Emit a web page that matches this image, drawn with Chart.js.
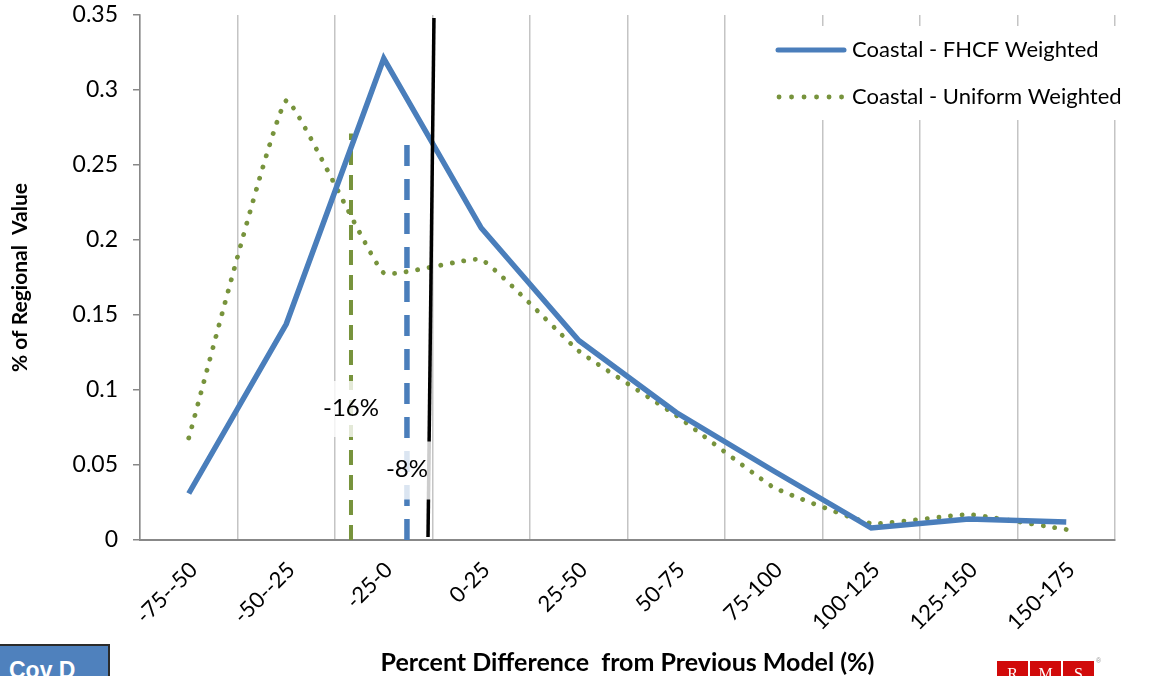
<!DOCTYPE html>
<html>
<head>
<meta charset="utf-8">
<title>Coastal – Percent Difference from Previous Model</title>
<script src="https://cdn.jsdelivr.net/npm/chart.js@4.4.1/dist/chart.umd.min.js"></script>
<style>
  html, body { margin: 0; padding: 0; background: #fff; overflow: hidden; }
  #wrap { position: relative; width: 1153px; height: 676px; overflow: hidden; }
  #c { position: absolute; left: 0; top: 0; }
  .cov {
    position: absolute; left: -2px; top: 644px; width: 112px; height: 44px;
    box-sizing: border-box; border: 2px solid #2b2b2b; background: #4f81bd;
    color: #fff; font: bold 23px "Liberation Sans", Arial, sans-serif;
    line-height: 23px; padding: 13px 0 0 9px;
  }
  .rms { position: absolute; left: 997px; top: 661px; display: flex; gap: 2px; }
  .rms span {
    display: block; width: 31px; height: 24px; background: #d10a0a; color: #fff;
    font: 16px "Liberation Serif", "DejaVu Serif", serif; line-height: 26px; text-align: center;
  }
  .reg { position: absolute; left: 1096px; top: 657px; font: 7px "Liberation Sans", sans-serif; color: #999; }
</style>
</head>
<body>
<div id="wrap">
  <canvas id="c" width="1153" height="676"></canvas>
  <div class="cov">Cov D</div>
  <div class="rms"><span>R</span><span>M</span><span>S</span></div>
  <div class="reg">®</div>
</div>
<script>
// Loss-change buckets (percent difference from the previous model)
const categories = ['-75--50', '-50--25', '-25-0', '0-25', '25-50', '50-75', '75-100', '100-125', '125-150', '150-175'];

// Share of regional value in each bucket
const fhcfWeighted    = [0.031, 0.144, 0.321, 0.208, 0.133, 0.085, 0.046, 0.008, 0.014, 0.012];
const uniformWeighted = [0.068, 0.293, 0.178, 0.187, 0.126, 0.083, 0.035, 0.011, 0.017, 0.007];

const seriesNames = ['Coastal - FHCF Weighted', 'Coastal - Uniform Weighted'];

// Y axis ticks
const yTickValues = [0, 0.05, 0.1, 0.15, 0.2, 0.25, 0.3, 0.35];
const yTickLabels = ['0', '0.05', '0.1', '0.15', '0.2', '0.25', '0.3', '0.35'];

// Average-change markers, positioned in category units along the x axis
const uniformMeanPos = [1.664, 1.664];
const uniformMeanY   = [0, 0.271];
const fhcfMeanPos    = [2.238, 2.238];
const fhcfMeanY      = [0, 0.271];
const zeroLinePos    = [2.454, 2.515];
const zeroLineY      = [0.002, 0.348];

const meanLabels   = ['-16%', '-8%'];
const meanLabelPos = [1.664, 2.238];
const meanLabelY   = [0.088, 0.047];

const FONT = 'Lato, "Open Sans", "DejaVu Sans", sans-serif';
const BLUE = '#4a7ebb';
const GREEN = '#77933c';

const toPoints = (xs, ys) => xs.map((x, i) => ({ x, y: ys[i] }));

// Legend drawn in the upper right of the plot, on a white panel
const legendPanel = {
  id: 'legendPanel',
  afterDatasetsDraw(chart) {
    const ctx = chart.ctx;
    ctx.save();
    ctx.fillStyle = '#fff';
    ctx.fillRect(760, 26, 393, 94);

    // solid entry
    ctx.strokeStyle = BLUE;
    ctx.lineWidth = 5;
    ctx.lineCap = 'round';
    ctx.beginPath();
    ctx.moveTo(778, 50);
    ctx.lineTo(844, 50);
    ctx.stroke();

    // dotted entry
    ctx.strokeStyle = GREEN;
    ctx.lineWidth = 4.8;
    ctx.setLineDash([0.1, 12.4]);
    ctx.beginPath();
    ctx.moveTo(779, 97);
    ctx.lineTo(845, 97);
    ctx.stroke();
    ctx.setLineDash([]);

    ctx.fillStyle = '#000';
    ctx.font = '22px ' + FONT;
    ctx.textBaseline = 'middle';
    ctx.textAlign = 'left';
    ctx.fillText(seriesNames[0], 852, 50);
    ctx.fillText(seriesNames[1], 852, 97);
    ctx.restore();
  }
};

// Value labels for the average markers, on translucent white boxes
const meanLabelBoxes = {
  id: 'meanLabelBoxes',
  afterDatasetsDraw(chart) {
    const ctx = chart.ctx;
    const xs = chart.scales.x2;
    const ys = chart.scales.y;
    const boxes = [
      { w: 62, h: 56 },
      { w: 48, h: 58 }
    ];
    ctx.save();
    ctx.font = '24px ' + FONT;
    ctx.textAlign = 'center';
    ctx.textBaseline = 'middle';
    meanLabels.forEach((txt, i) => {
      const px = xs.getPixelForValue(meanLabelPos[i]);
      const py = ys.getPixelForValue(meanLabelY[i]);
      const b = boxes[i];
      ctx.fillStyle = 'rgba(255,255,255,0.8)';
      ctx.fillRect(px - b.w / 2, py - b.h / 2 + 1, b.w, b.h);
      ctx.fillStyle = '#000';
      ctx.fillText(txt, px, py);
    });
    ctx.restore();
  }
};

new Chart(document.getElementById('c'), {
  type: 'line',
  data: {
    labels: categories,
    datasets: [
      {
        label: 'zero',
        xAxisID: 'x2',
        data: toPoints(zeroLinePos, zeroLineY),
        borderColor: '#000',
        borderWidth: 3.5,
        pointRadius: 0,
        order: 0
      },
      {
        label: seriesNames[0],
        xAxisID: 'x',
        data: fhcfWeighted,
        borderColor: BLUE,
        borderWidth: 5.5,
        borderJoinStyle: 'miter',
        pointRadius: 0,
        tension: 0,
        order: 1
      },
      {
        label: 'fhcf mean',
        xAxisID: 'x2',
        data: toPoints(fhcfMeanPos, fhcfMeanY),
        borderColor: BLUE,
        borderWidth: 5.5,
        borderDash: [21, 13],
        borderCapStyle: 'butt',
        pointRadius: 0,
        order: 2
      },
      {
        label: seriesNames[1],
        xAxisID: 'x',
        data: uniformWeighted,
        borderColor: GREEN,
        borderWidth: 4.8,
        borderDash: [0.1, 11.6],
        borderCapStyle: 'round',
        pointRadius: 0,
        tension: 0.1,
        order: 3
      },
      {
        label: 'uniform mean',
        xAxisID: 'x2',
        data: toPoints(uniformMeanPos, uniformMeanY),
        borderColor: GREEN,
        borderWidth: 4,
        borderDash: [15, 10],
        borderCapStyle: 'butt',
        pointRadius: 0,
        order: 4
      }
    ]
  },
  options: {
    responsive: false,
    animation: false,
    devicePixelRatio: 1,
    layout: { padding: { top: 15, right: 38, left: 0, bottom: 0 } },
    plugins: {
      legend: { display: false },
      tooltip: { enabled: false }
    },
    scales: {
      x: {
        type: 'category',
        offset: true,
        grid: {
          offset: true,
          color: '#c4c4c4',
          lineWidth: 1.5,
          drawTicks: false
        },
        border: { color: '#888888', width: 2 },
        ticks: {
          minRotation: 45,
          maxRotation: 45,
          autoSkip: false,
          padding: 17,
          labelOffset: 5,
          color: '#000',
          font: { family: FONT, size: 22 }
        },
        title: {
          display: true,
          text: 'Percent Difference  from Previous Model (%)',
          color: '#000',
          font: { family: FONT, size: 25, weight: 'bold' },
          padding: { top: 0, bottom: -2 }
        },
        afterFit(scale) { scale.height = 136; }
      },
      x2: {
        type: 'linear',
        display: false,
        min: -0.5,
        max: 9.5
      },
      y: {
        min: 0,
        max: 0.35,
        grid: {
          drawOnChartArea: false,
          drawTicks: true,
          tickLength: 7,
          color: '#888888',
          lineWidth: 1.5
        },
        border: { color: '#888888', width: 1.5 },
        afterBuildTicks(scale) {
          scale.ticks = yTickValues.map(v => ({ value: v }));
        },
        ticks: {
          padding: 15,
          color: '#000',
          font: { family: FONT, size: 23 },
          callback(value) {
            const i = yTickValues.findIndex(v => Math.abs(v - value) < 1e-9);
            return i >= 0 ? yTickLabels[i] : '';
          }
        },
        title: {
          display: true,
          text: '% of Regional  Value',
          color: '#000',
          font: { family: FONT, size: 21, weight: 'bold' },
          padding: { top: 8, bottom: 0 }
        },
        afterFit(scale) {
          scale.width = 140;
          scale.paddingTop = 0;
          scale.paddingBottom = 0;
        }
      }
    }
  },
  plugins: [legendPanel, meanLabelBoxes]
});
</script>
</body>
</html>
